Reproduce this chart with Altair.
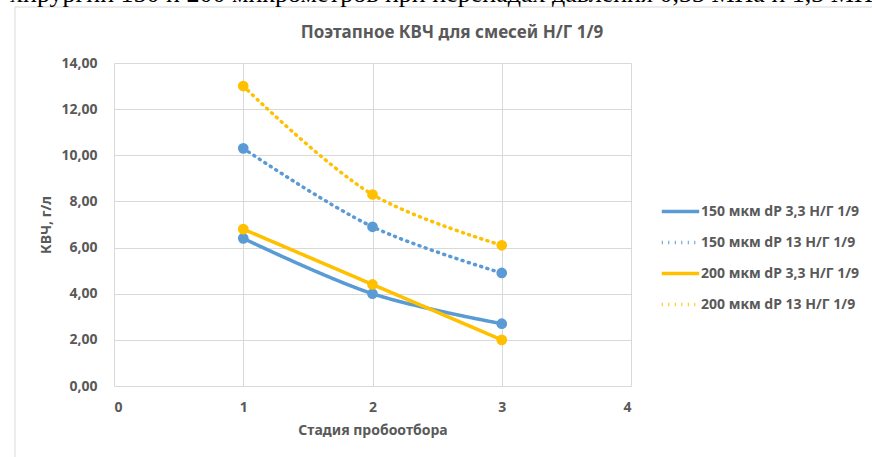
import altair as alt
import pandas as pd

# ---- data ----
stages = [1, 2, 3]
series_names = [
    "150 мкм dP 3,3 Н/Г 1/9",
    "150 мкм dP 13 Н/Г 1/9",
    "200 мкм dP 3,3 Н/Г 1/9",
    "200 мкм dP 13 Н/Г 1/9",
]
s150_33 = [6.4, 4.0, 2.7]
s150_13 = [10.3, 6.9, 4.9]
s200_33 = [6.8, 4.4, 2.0]
s200_13 = [13.0, 8.3, 6.1]
x_ticks = [0, 1, 2, 3, 4]
y_ticks = [0, 2, 4, 6, 8, 10, 12, 14]
series_colors = ["#5B9BD5", "#5B9BD5", "#FFC000", "#FFC000"]
series_dashes = [[1, 0], [1, 5.5], [1, 0], [1, 5.5]]

chart_title = "Поэтапное КВЧ для смесей Н/Г 1/9"
x_title = "Стадия пробоотбора"
y_title = "КВЧ, г/л"
page_text = "хирургии 150 и 200 микрометров при перепадах давления 0,33 МПа и 1,3 МПа"

rows = []
for name, vals in zip(series_names, [s150_33, s150_13, s200_33, s200_13]):
    for st, v in zip(stages, vals):
        rows.append({"series": name, "stage": st, "kvch": v})
df = pd.DataFrame(rows)

FONT = "Noto Sans"
GREY = "#595959"
GRID = "#d9d9d9"

x_enc = alt.X(
    "stage:Q",
    scale=alt.Scale(domain=[0, 4], nice=False, zero=False),
    axis=alt.Axis(
        values=x_ticks, title=x_title, grid=True, gridColor=GRID, domain=False,
        ticks=False, labelPadding=14, titlePadding=9, format="d",
    ),
)
y_enc = alt.Y(
    "kvch:Q",
    scale=alt.Scale(domain=[0, 14], nice=False),
    axis=alt.Axis(
        values=y_ticks, title=y_title, grid=True, gridColor=GRID, domain=False,
        ticks=False, labelPadding=17, titlePadding=7,
        labelExpr="replace(format(datum.value, '.2f'), '.', ',')",
    ),
)
leg = alt.Legend(
    title=None, orient="none", legendX=546, legendY=128,
    symbolType="stroke", symbolStrokeWidth=3.5, symbolSize=1400,
    labelFont=FONT, labelFontSize=14, labelFontWeight="bold", labelColor=GREY,
    rowPadding=3, labelOffset=0, labelLimit=300,
)
color_enc = alt.Color("series:N", scale=alt.Scale(domain=series_names, range=series_colors), legend=leg, sort=series_names)
dash_enc = alt.StrokeDash("series:N", scale=alt.Scale(domain=series_names, range=series_dashes), legend=leg, sort=series_names)

lines = alt.Chart(df).mark_line(
    strokeWidth=3.5, interpolate="catmull-rom", strokeCap="round"
).encode(x=x_enc, y=y_enc, color=color_enc, strokeDash=dash_enc, detail="series:N")

points = alt.Chart(df).mark_point(filled=True, size=115, opacity=1).encode(
    x="stage:Q", y="kvch:Q",
    color=alt.Color("series:N", scale=alt.Scale(domain=series_names, range=series_colors)),
)

one = pd.DataFrame({"k": [0]})
frame = alt.Chart(one).mark_rect(fillOpacity=0, stroke=GRID, strokeWidth=1).encode(
    x=alt.value(-99), x2=alt.value(770), y=alt.value(-56), y2=alt.value(410)
)
title_txt = alt.Chart(one).mark_text(
    text=chart_title, font=FONT, fontSize=17, fontWeight="bold", color=GREY,
    align="center", baseline="middle",
).encode(x=alt.value(338), y=alt.value(-30))
page_txt = alt.Chart(one).mark_text(
    text=page_text, font="Liberation Serif", fontSize=26, color="#000000",
    align="left", baseline="alphabetic",
).encode(x=alt.value(-104), y=alt.value(-61))

chart = alt.layer(frame, page_txt, title_txt, lines, points).properties(
    width=517, height=323,
    autosize=alt.AutoSizeParams(type="none"),
    padding={"left": 114, "top": 63, "right": 241, "bottom": 71},
).configure_view(stroke=None).configure_axis(
    labelFont=FONT, labelFontSize=14, labelFontWeight="bold", labelColor=GREY,
    titleFont=FONT, titleFontSize=14, titleFontWeight="bold", titleColor=GREY,
)

chart.save("out.html", embed_options={"renderer": "svg", "actions": False})
